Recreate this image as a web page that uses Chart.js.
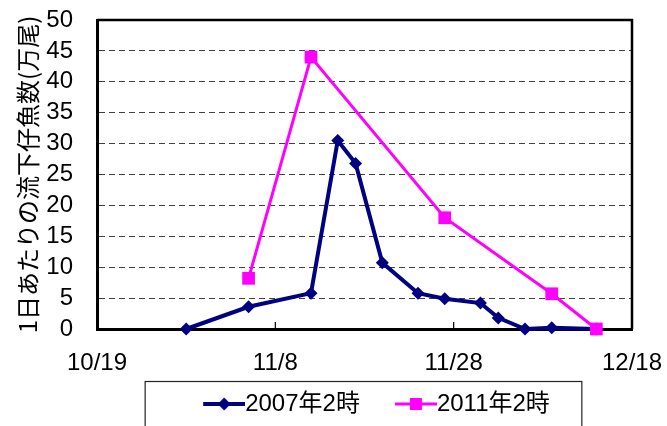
<!DOCTYPE html>
<html>
<head>
<meta charset="utf-8">
<script src="https://cdn.jsdelivr.net/npm/chart.js@4.4.1/dist/chart.umd.min.js"></script>
<style>
  html, body { margin: 0; padding: 0; background: #fff; }
</style>
</head>
<body>
<canvas id="chart" width="667" height="426"></canvas>
<script>
// season starts at 10/19, dates are month/day
const startDate = '10/19';
const dates2007 = ['10/29', '11/5', '11/12', '11/15', '11/17', '11/20', '11/24', '11/27', '12/1', '12/3', '12/6', '12/9', '12/14'];
const values2007 = [0, 3.6, 5.8, 30.5, 26.8, 10.7, 5.8, 4.9, 4.2, 1.8, 0, 0.2, 0];
const dates2011 = ['11/5', '11/12', '11/27', '12/9', '12/14'];
const values2011 = [8.2, 44, 18, 5.7, 0];
const xTickLabels = ['10/19', '11/8', '11/28', '12/18'];
const seriesNames = ['2007年2時', '2011年2時'];
const yTitle = '1日あたりの流下仔魚数(万尾)';

const NAVY = '#000080';
const MAGENTA = '#FF00FF';
const FONT = '"Liberation Sans", "Noto Sans CJK JP", sans-serif';

// helper: days since the start date
const daysFromStart = md => {
  const [m, d] = md.split('/').map(Number);
  const [m0, d0] = startDate.split('/').map(Number);
  return (Date.UTC(2007, m - 1, d) - Date.UTC(2007, m0 - 1, d0)) / 86400000;
};

const toPoints = (dates, values) => dates.map((d, i) => ({ x: daysFromStart(d), y: values[i] }));

// legend icons: a short line with the marker on it
const ICON_BOX = 54;
const makeIcon = (color, lineWidth, shape) => {
  const c = document.createElement('canvas');
  c.width = ICON_BOX + 24;
  c.height = 20;
  const g = c.getContext('2d');
  const x0 = c.width - 42, cx = c.width - 21, cy = 10;
  g.strokeStyle = color;
  g.fillStyle = color;
  g.lineWidth = lineWidth;
  g.beginPath();
  g.moveTo(x0, cy);
  g.lineTo(c.width, cy);
  g.stroke();
  g.beginPath();
  if (shape === 'diamond') {
    g.moveTo(cx - 6.5, cy);
    g.lineTo(cx, cy - 6.5);
    g.lineTo(cx + 6.5, cy);
    g.lineTo(cx, cy + 6.5);
    g.closePath();
    g.fill();
  } else {
    g.fillRect(cx - 6, cy - 6, 12, 12);
  }
  return c;
};
const icons = [makeIcon(NAVY, 4, 'diamond'), makeIcon(MAGENTA, 3, 'square')];

const framePlugin = {
  id: 'frame',
  beforeDatasetsDraw(chart) {
    const { ctx, chartArea: a } = chart;
    const x = chart.scales.x;
    ctx.save();
    ctx.strokeStyle = '#000';
    ctx.lineWidth = 2.5;
    ctx.beginPath();
    ctx.moveTo(a.left, a.top);
    ctx.lineTo(a.right, a.top);
    ctx.lineTo(a.right, a.bottom);
    ctx.stroke();
    // little tick marks pointing up into the plot
    ctx.lineWidth = 1.2;
    x.ticks.forEach(t => {
      if (t.value > x.min && t.value < x.max) {
        const px = x.getPixelForValue(t.value);
        ctx.beginPath();
        ctx.moveTo(px, a.bottom);
        ctx.lineTo(px, a.bottom - 7);
        ctx.stroke();
      }
    });
    ctx.restore();
  },
  afterDraw(chart) {
    const boxes = chart.legend.legendHitBoxes;
    if (!boxes || !boxes.length) return;
    const left = Math.min(...boxes.map(b => b.left)) - 34;
    const right = Math.max(...boxes.map(b => b.left + b.width)) + 32;
    const ctx = chart.ctx;
    ctx.save();
    ctx.strokeStyle = '#222';
    ctx.lineWidth = 1.2;
    ctx.strokeRect(left, chart.legend.top + 0.5, right - left, 60);
    ctx.restore();
  }
};

const chart = new Chart(document.getElementById('chart'), {
  type: 'line',
  data: {
    datasets: [
      {
        label: seriesNames[0],
        data: toPoints(dates2007, values2007),
        borderColor: NAVY,
        backgroundColor: NAVY,
        borderWidth: 4,
        pointStyle: 'rectRot',
        pointRadius: 6.5,
        pointBorderWidth: 0,
        tension: 0,
        clip: false,
        order: 1
      },
      {
        label: seriesNames[1],
        data: toPoints(dates2011, values2011),
        borderColor: MAGENTA,
        backgroundColor: MAGENTA,
        borderWidth: 3,
        pointStyle: 'rect',
        pointRadius: 9,
        pointBorderWidth: 0,
        tension: 0,
        clip: false,
        order: 0
      }
    ]
  },
  options: {
    responsive: false,
    animation: false,
    layout: { padding: { top: 20, right: 35, left: 0, bottom: 0 } },
    scales: {
      x: {
        type: 'linear',
        min: 0,
        max: 60,
        ticks: {
          stepSize: 20,
          autoSkip: false,
          maxRotation: 0,
          padding: 12,
          color: '#000',
          font: { family: FONT, size: 24 },
          callback: v => xTickLabels[v / 20]
        },
        grid: { display: false },
        border: { color: '#000', width: 3 },
        afterFit: s => {
          s.height = 52;
          s.paddingLeft = 0;
          s.paddingRight = 0;
        }
      },
      y: {
        min: 0,
        max: 50,
        ticks: {
          stepSize: 5,
          autoSkip: false,
          padding: 24,
          color: '#000',
          font: { family: FONT, size: 24 }
        },
        grid: { color: '#404040', lineWidth: 1, drawTicks: false },
        border: { color: '#000', width: 3, dash: [6, 4] },
        title: {
          display: true,
          text: yTitle,
          color: '#000',
          font: { family: '"Noto Sans CJK JP", sans-serif', size: 24 },
          padding: { top: 13, bottom: 0 }
        },
        afterFit: s => {
          s.width = 97;
          s.paddingTop = 0;
          s.paddingBottom = 0;
        }
      }
    },
    plugins: {
      tooltip: { enabled: false },
      legend: {
        position: 'bottom',
        fullSize: false,
        labels: {
          usePointStyle: true,
          pointStyleWidth: ICON_BOX,
          padding: 11,
          color: '#000',
          font: { family: FONT, size: 24 },
          generateLabels: c => Chart.defaults.plugins.legend.labels.generateLabels(c)
            .map(item => ({ ...item, pointStyle: icons[item.datasetIndex] })),
          sort: (a, b) => a.datasetIndex - b.datasetIndex
        }
      }
    }
  },
  plugins: [framePlugin]
});
</script>
</body>
</html>
